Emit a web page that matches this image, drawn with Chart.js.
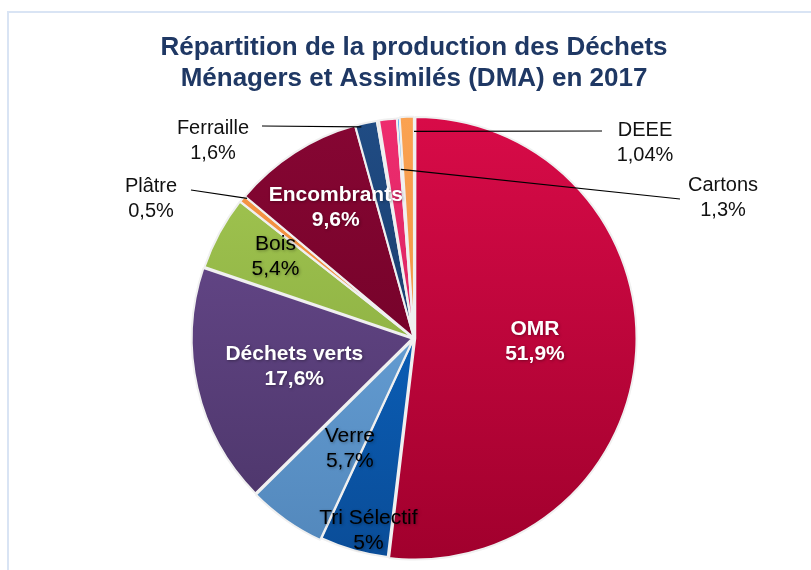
<!DOCTYPE html>
<html>
<head>
<meta charset="utf-8">
<script src="https://cdn.jsdelivr.net/npm/chart.js@4.4.1/dist/chart.umd.min.js"></script>
<style>
  html, body { margin: 0; padding: 0; background: #fff; overflow: hidden; }
  #wrap { position: relative; width: 811px; height: 570px; }
  #frame { position: absolute; left: 7px; top: 11px; width: 900px; height: 700px;
           border-left: 2px solid #d9e4f4; border-top: 2px solid #d9e4f4; }
  canvas { position: absolute; left: 0; top: 0; }
</style>
</head>
<body>
<div id="wrap">
  <div id="frame"></div>
  <canvas id="chart" width="811" height="570"></canvas>
</div>
<script>
// data (percent of DMA tonnage, 2017)
const categories = ['OMR', 'Tri Sélectif', 'Verre', 'Déchets verts', 'Bois', 'Plâtre',
                    'Encombrants', 'Ferraille', 'Divers', 'Cartons', 'Autres', 'DEEE'];
const values = [51.9, 5, 5.7, 17.6, 5.4, 0.5, 9.6, 1.6, 0.16, 1.3, 0.2, 1.04];
const titleLines = ['Répartition de la production des Déchets', 'Ménagers et Assimilés (DMA) en 2017'];

// colours: top / bottom of the vertical shading
const colorsTop = ['#d80b48', '#0b6cd0', '#72aee6', '#6c4c92', '#a4c852', '#f79646',
                   '#860633', '#204c84', '#9b7b4a', '#ee2c6e', '#2196f3', '#faa252'];
const colorsBottom = ['#a1002d', '#0a4d98', '#5287bb', '#4a3467', '#7fa23a', '#e8822f',
                      '#680022', '#13305a', '#7a5e36', '#c81f5a', '#1a78c8', '#e88a3a'];
const sliceOffsets = [5, 1, 6, 8, 3, 2, 2, 1, 1, 1, 1, 3];

// label placement inside slices: t = fraction along the arc, r = fraction of radius
const insideLabels = {
  0: { t: 0.49, r: 0.55, bold: true, color: '#fff' },
  6: { t: 0.55, r: 0.69, bold: true, color: '#fff' },
  3: { t: 0.49, r: 0.56, bold: true, color: '#fff' },
  4: { t: 0.60, r: 0.73, bold: false, color: '#000' },
  2: { t: 0.26, r: 0.58, bold: false, color: '#000' },
  1: { t: 0.36, r: 0.90, bold: false, color: '#000' }
};
// labels outside with a leader line
const outsideLabels = {
  7:  { t: 0.26, r: 0.99, textX: 213, textY: 141, lineX: 262, lineY: 126 },
  5:  { t: 1.00, r: 0.99, textX: 151, textY: 199, lineX: 191, lineY: 190 },
  11: { t: 1.00, r: 0.94, textX: 645, textY: 143, lineX: 602, lineY: 131 },
  9:  { t: 1.00, r: 0.77, textX: 723, textY: 198, lineX: 680, lineY: 199 }
};

const PIE_RADIUS = 220;
const FONT = "'Liberation Sans', Arial, sans-serif";

function pctText(v) {
  return String(v).replace('.', ',') + '%';
}

const gradCache = {};
function shade(ctx) {
  const chart = ctx.chart;
  const area = chart.chartArea;
  const i = ctx.dataIndex;
  if (!area) return colorsTop[i];
  const cy = (area.top + area.bottom) / 2;
  const key = i + ':' + cy;
  if (!gradCache[key]) {
    const g = chart.ctx.createLinearGradient(0, cy - PIE_RADIUS, 0, cy + PIE_RADIUS);
    g.addColorStop(0, colorsTop[i]);
    g.addColorStop(1, colorsBottom[i]);
    gradCache[key] = g;
  }
  return gradCache[key];
}

function pointOn(arc, t, r) {
  const a = arc.startAngle + t * (arc.endAngle - arc.startAngle);
  return { x: arc.x + Math.cos(a) * r * arc.outerRadius, y: arc.y + Math.sin(a) * r * arc.outerRadius };
}

const sliceLabels = {
  id: 'sliceLabels',
  afterDatasetsDraw(chart) {
    const ctx = chart.ctx;
    const arcs = chart.getDatasetMeta(0).data;
    ctx.save();
    ctx.textAlign = 'center';
    ctx.textBaseline = 'middle';

    Object.keys(outsideLabels).forEach(k => {
      const i = +k, o = outsideLabels[k];
      const p = pointOn(arcs[i], o.t, o.r);
      ctx.strokeStyle = '#000';
      ctx.lineWidth = 1.2;
      ctx.beginPath();
      ctx.moveTo(o.lineX, o.lineY);
      ctx.lineTo(p.x, p.y);
      ctx.stroke();
      ctx.font = '20px ' + FONT;
      ctx.fillStyle = '#111';
      ctx.fillText(categories[i], o.textX, o.textY - 12.5);
      ctx.fillText(pctText(values[i]), o.textX, o.textY + 12.5);
    });

    Object.keys(insideLabels).forEach(k => {
      const i = +k, o = insideLabels[k];
      const p = pointOn(arcs[i], o.t, o.r);
      ctx.font = (o.bold ? 'bold ' : '') + '21px ' + FONT;
      ctx.fillStyle = o.color;
      ctx.shadowColor = 'rgba(0,0,0,0.35)';
      ctx.shadowBlur = 3;
      ctx.shadowOffsetX = 1;
      ctx.shadowOffsetY = 1;
      ctx.fillText(categories[i], p.x, p.y - 12.5);
      ctx.fillText(pctText(values[i]), p.x, p.y + 12.5);
    });
    ctx.restore();
  }
};

new Chart(document.getElementById('chart'), {
  type: 'pie',
  data: {
    labels: categories,
    datasets: [{
      data: values,
      backgroundColor: shade,
      borderColor: '#f0f0f0',
      borderWidth: 2,
      offset: sliceOffsets,
      radius: PIE_RADIUS
    }]
  },
  options: {
    responsive: false,
    animation: false,
    layout: { padding: { top: 32, bottom: 4, left: 102, right: 85 } },
    plugins: {
      legend: { display: false },
      tooltip: { enabled: false },
      title: {
        display: true,
        text: titleLines,
        color: '#1f3864',
        font: { family: FONT, size: 26, weight: 'bold', lineHeight: 1.2 },
        padding: { top: 0, bottom: 16 }
      }
    }
  },
  plugins: [sliceLabels]
});
</script>
</body>
</html>
